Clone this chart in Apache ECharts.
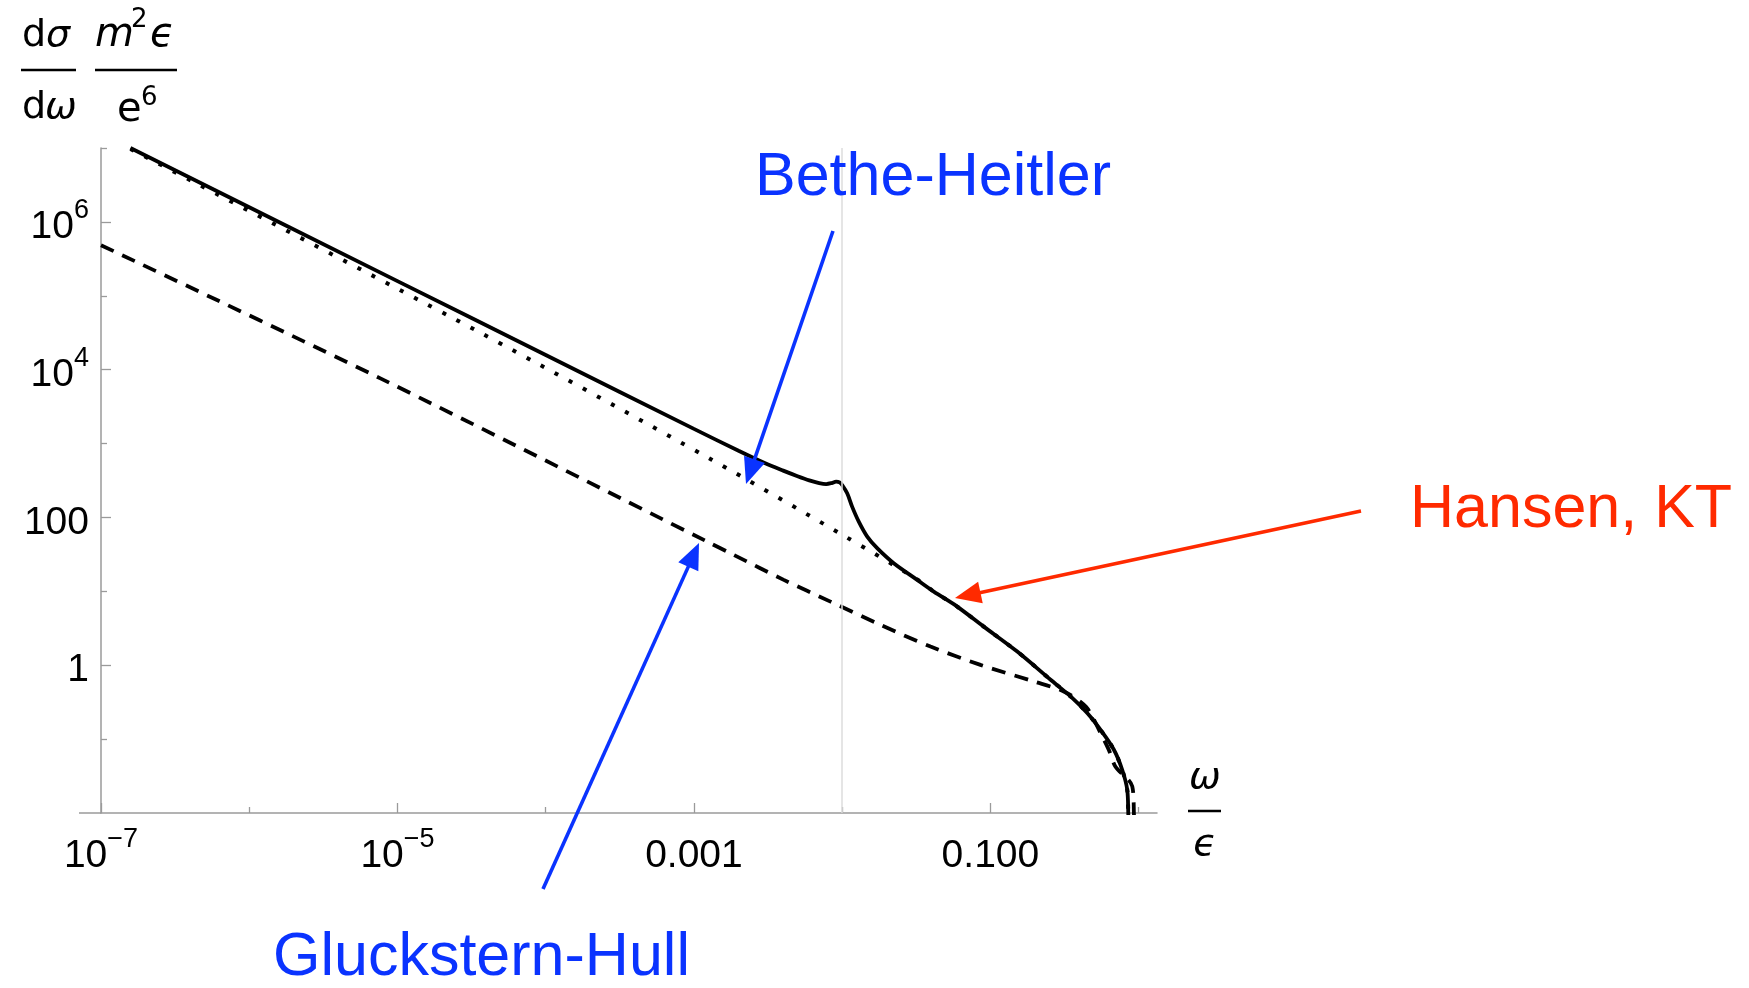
<!DOCTYPE html>
<html>
<head>
<meta charset="utf-8">
<style>
  html, body { margin: 0; padding: 0; background: #fff; }
  #main { width: 1749px; height: 988px; }
</style>
<script src="https://cdn.jsdelivr.net/npm/echarts@6/dist/echarts.min.js"></script>
</head>
<body>
<div id="main"></div>
<script>
// Hansen, KT (solid)
var hktX = [1.58e-7, 1e-5, 1e-4, 1e-3, 2e-3, 3e-3, 4e-3, 5e-3, 6e-3, 7e-3,
            7.8e-3, 8.5e-3, 9.1e-3, 9.6e-3, 0.0100, 0.01081, 0.01167, 0.01294, 0.01476, 0.01722,
            0.02228, 0.03206, 0.04150, 0.05970, 0.09016, 0.1517, 0.2547, 0.3475, 0.4498, 0.5521,
            0.6808, 0.7745, 0.8375, 0.8511, 0.86];
var hktY = [1.0e7, 1.58e5, 1.58e4, 1580, 800, 545, 430, 362, 318, 292,
            283, 292, 305, 298, 275, 212, 140, 87.7, 55, 38.4,
            24.0, 14.3, 9.93, 6.22, 3.33, 1.53, 0.635, 0.378, 0.225, 0.134,
            0.0718, 0.0385, 0.0207, 0.01, 0.004];
// Bethe-Heitler (dotted)
var bhX = [1.58e-7, 3.357e-5, 1.327e-3, 0.01052, 0.03206, 0.04150, 0.05970, 0.09016, 0.1517, 0.2547,
           0.3475, 0.4498, 0.5521, 0.6808, 0.7745, 0.8375, 0.8511, 0.86];
var bhY = [9.7e6, 3.436e4, 600, 55, 14.5, 9.93, 6.22, 3.33, 1.53, 0.635,
           0.378, 0.225, 0.134, 0.0718, 0.0385, 0.0207, 0.01, 0.004];
// Gluckstern-Hull (dashed)
var ghX = [1e-7, 7.67e-6, 1.227e-3, 1.858e-3, 4.036e-3, 8.337e-3, 0.01811, 0.03945, 0.0857, 0.1963,
           0.3126, 0.4416, 0.5521, 0.6295, 0.6966, 0.9057, 0.929, 0.935];
var ghY = [4.84e5, 7621, 47.1, 31.1, 14.3, 7.26, 3.52, 1.79, 1.01, 0.603,
           0.441, 0.274, 0.122, 0.0715, 0.0427, 0.0229, 0.01, 0.004];

// axes
var xMajor = [1e-7, 1e-5, 1e-3, 0.1];
var xMinor = [1e-6, 1e-4, 1e-2, 1];
var xTickLabels = ['10^−7', '10^−5', '0.001', '0.100'];
var yMajor = [1, 100, 1e4, 1e6];
var yMinor = [0.1, 10, 1000, 1e5, 1e7];
var yTickLabels = ['1', '100', '10^4', '10^6'];
var gridLineX = 0.01;

var BLUE = '#0a33ff';
var RED = '#ff2a00';
var AXIS = '#9a9a9a';

function zip(xs, ys) {
  return xs.map(function (x, i) { return [x, ys[i]]; });
}

function tickFormatter(values, labels) {
  return function (v) {
    for (var i = 0; i < values.length; i++) {
      if (Math.abs(Math.log10(v) - Math.log10(values[i])) < 1e-6) {
        var parts = labels[i].split('^');
        if (parts.length > 1) return '{b|' + parts[0] + '}{s|' + parts[1] + '}';
        return '{b|' + parts[0] + '}';
      }
    }
    return '';
  };
}

var labelRich = {
  b: { fontSize: 39, fontFamily: 'Liberation Sans', color: '#000', lineHeight: 50, verticalAlign: 'bottom' },
  s: { fontSize: 27, fontFamily: 'Liberation Sans', color: '#000', lineHeight: 50, verticalAlign: 'top' }
};

var myChart = echarts.init(document.getElementById('main'), null, { renderer: 'canvas' });

function logAxis(min, max, major, minor, labels, isX) {
  var main = {
    type: 'log', logBase: 10, min: min, max: max,
    position: isX ? 'bottom' : 'left',
    axisLine: { show: true, onZero: false, lineStyle: { color: AXIS, width: 1.5 } },
    axisTick: { show: true, inside: true, length: 10, customValues: major, lineStyle: { color: AXIS, width: 1.3 } },
    axisLabel: { show: true, customValues: major, formatter: tickFormatter(major, labels), rich: labelRich, margin: isX ? 13 : 12 },
    splitLine: { show: false }
  };
  var sub = {
    type: 'log', logBase: 10, min: min, max: max,
    position: isX ? 'bottom' : 'left',
    axisLine: { show: false, onZero: false },
    axisTick: { show: true, inside: true, length: 6, customValues: minor, lineStyle: { color: AXIS, width: 1.3 } },
    axisLabel: { show: false },
    splitLine: { show: false }
  };
  return [main, sub];
}

// arrow graphic helpers (annotation positions in pixels)
function arrow(from, to, color) {
  var dx = to[0] - from[0], dy = to[1] - from[1];
  var L = Math.sqrt(dx * dx + dy * dy);
  var ux = dx / L, uy = dy / L;
  var len = 26, half = 11;
  var bx = to[0] - ux * len, by = to[1] - uy * len;
  return [
    { type: 'line', shape: { x1: from[0], y1: from[1], x2: bx + ux * 2, y2: by + uy * 2 },
      style: { stroke: color, lineWidth: 3.6 }, z: 10 },
    { type: 'polygon', shape: { points: [to, [bx - uy * half, by + ux * half], [bx + uy * half, by - ux * half]] },
      style: { fill: color }, z: 10 }
  ];
}

var annoFont = 'Liberation Sans';
var mathFont = 'DejaVu Sans';

var graphics = [].concat(
  arrow([833, 231], [746, 484], BLUE),
  arrow([1361, 511], [955, 598], RED),
  arrow([543, 889], [699, 543], BLUE),
  [
    { type: 'text', style: { text: 'Bethe-Heitler', x: 755, y: 178, fill: BLUE, fontSize: 61, fontFamily: annoFont, verticalAlign: 'middle' }, z: 10 },
    { type: 'text', style: { text: 'Hansen, KT', x: 1410, y: 510, fill: RED, fontSize: 61, fontFamily: annoFont, verticalAlign: 'middle' }, z: 10 },
    { type: 'text', style: { text: 'Gluckstern-Hull', x: 273, y: 958, fill: BLUE, fontSize: 61, fontFamily: annoFont, verticalAlign: 'middle' }, z: 10 },
    // x-axis stub left of y axis
    { type: 'line', shape: { x1: 79, y1: 813, x2: 101, y2: 813 }, style: { stroke: AXIS, lineWidth: 1.5 } },
    // y title: dσ/dω · m²ϵ/e⁶
    { type: 'text', style: { text: 'd', x: 22, y: 36, fill: '#000', fontSize: 38, fontFamily: mathFont, verticalAlign: 'middle' } },
    { type: 'text', style: { text: 'σ', x: 46, y: 36, fill: '#000', fontSize: 38, fontStyle: 'italic', fontFamily: mathFont, verticalAlign: 'middle' } },
    { type: 'line', shape: { x1: 21, y1: 70, x2: 76, y2: 70 }, style: { stroke: '#000', lineWidth: 2.5 } },
    { type: 'text', style: { text: 'd', x: 22, y: 108, fill: '#000', fontSize: 38, fontFamily: mathFont, verticalAlign: 'middle' } },
    { type: 'text', style: { text: 'ω', x: 45, y: 108, fill: '#000', fontSize: 38, fontStyle: 'italic', fontFamily: mathFont, verticalAlign: 'middle' } },
    { type: 'text', style: { text: 'm', x: 95, y: 36, fill: '#000', fontSize: 40, fontStyle: 'italic', fontFamily: mathFont, verticalAlign: 'middle' } },
    { type: 'text', style: { text: '2', x: 131, y: 20, fill: '#000', fontSize: 26, fontFamily: mathFont, verticalAlign: 'middle' } },
    { type: 'text', style: { text: 'ϵ', x: 150, y: 36, fill: '#000', fontSize: 40, fontStyle: 'italic', fontFamily: mathFont, verticalAlign: 'middle' } },
    { type: 'line', shape: { x1: 95, y1: 70, x2: 177, y2: 70 }, style: { stroke: '#000', lineWidth: 2.5 } },
    { type: 'text', style: { text: 'e', x: 117, y: 111, fill: '#000', fontSize: 40, fontFamily: mathFont, verticalAlign: 'middle' } },
    { type: 'text', style: { text: '6', x: 141, y: 98, fill: '#000', fontSize: 26, fontFamily: mathFont, verticalAlign: 'middle' } },
    // x title: ω/ϵ
    { type: 'text', style: { text: 'ω', x: 1205, y: 778, fill: '#000', fontSize: 38, fontStyle: 'italic', fontFamily: mathFont, align: 'center', verticalAlign: 'middle' } },
    { type: 'line', shape: { x1: 1188, y1: 811, x2: 1221, y2: 811 }, style: { stroke: '#000', lineWidth: 2.5 } },
    { type: 'text', style: { text: 'ϵ', x: 1205, y: 845, fill: '#000', fontSize: 38, fontStyle: 'italic', fontFamily: mathFont, align: 'center', verticalAlign: 'middle' } }
  ]
);

myChart.setOption({
  animation: false,
  backgroundColor: '#fff',
  grid: { left: 101, top: 148, right: 592, bottom: 175, containLabel: false, outerBoundsMode: 'none' },
  xAxis: logAxis(1e-7, 1.33, xMajor, xMinor, xTickLabels, true),
  yAxis: logAxis(0.01, 1e7, yMajor, yMinor, yTickLabels, false),
  series: [
    {
      type: 'line', data: [], z: 1,
      markLine: {
        silent: true, symbol: ['none', 'none'], label: { show: false },
        lineStyle: { color: '#dcdcdc', width: 1.5, type: 'solid' },
        data: [{ xAxis: gridLineX }]
      }
    },
    {
      name: 'Gluckstern-Hull', type: 'line', data: zip(ghX, ghY), showSymbol: false, smooth: 0.3, z: 3,
      lineStyle: { color: '#000', width: 3.8, type: [14, 9.5] }
    },
    {
      name: 'Bethe-Heitler', type: 'line', data: zip(bhX, bhY), showSymbol: false, smooth: 0.3, z: 3,
      lineStyle: { color: '#000', width: 4, type: [4, 12] }
    },
    {
      name: 'Hansen, KT', type: 'line', data: zip(hktX, hktY), showSymbol: false, smooth: 0.3, z: 4,
      lineStyle: { color: '#000', width: 3.8 }
    }
  ],
  graphic: graphics
});
</script>
</body>
</html>
